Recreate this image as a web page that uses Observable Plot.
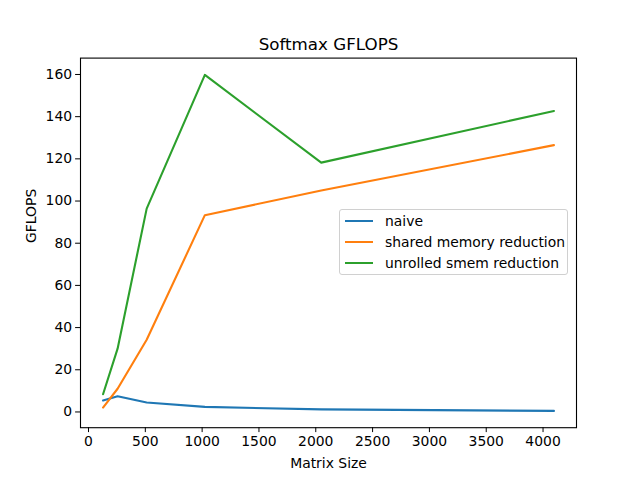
<!DOCTYPE html>
<html><head><meta charset="utf-8">
<script src="https://cdn.jsdelivr.net/npm/d3@7"></script>
<script src="https://cdn.jsdelivr.net/npm/@observablehq/plot@0.6"></script>
<style>
body{margin:0;background:#fff;font-family:"DejaVu Sans",sans-serif;}
#wrap{position:relative;width:640px;height:480px;}
#legend{position:absolute;left:339px;top:209px;width:229px;height:66px;box-sizing:border-box;border:1px solid #d0d0d0;border-radius:3px;background:rgba(255,255,255,0.8);font-size:13.9px;color:#000;}
.row{position:absolute;left:5px;height:20px;display:flex;align-items:center;}
.sw{width:28px;height:2px;margin-right:12px;}
</style></head>
<body><div id="wrap"></div>
<script>
const sizes = [128, 256, 512, 1024, 2048, 4096];
const naive = [5.4, 7.4, 4.5, 2.4, 1.2, 0.5];
const sharedMem = [2.1, 11, 34.2, 93.3, 105, 126.5];
const unrolled = [8.4, 30, 96.4, 159.8, 118.2, 142.7];
const seriesNames = ["naive", "shared memory reduction", "unrolled smem reduction"];
const seriesColors = ["#1f77b4", "#ff7f0e", "#2ca02c"];
const xTicks = [0, 500, 1000, 1500, 2000, 2500, 3000, 3500, 4000];
const yTicks = [0, 20, 40, 60, 80, 100, 120, 140, 160];

const allSeries = [naive, sharedMem, unrolled];
const rows = [];
allSeries.forEach((vals, si) => vals.forEach((v, i) => rows.push({size: sizes[i], gflops: v, series: seriesNames[si]})));

const xPad = (4096 - 128) * 0.05;
const yMin = 0.5, yMax = 159.8, yPad = (yMax - yMin) * 0.05;

const chart = Plot.plot({
  width: 640, height: 480,
  marginLeft: 80, marginRight: 64, marginTop: 57.6, marginBottom: 52.8,
  style: {fontFamily: "DejaVu Sans", fontSize: "13.9px", background: "white", color: "black"},
  x: {domain: [128 - xPad, 4096 + xPad]},
  y: {domain: [yMin - yPad, yMax + yPad]},
  color: {domain: seriesNames, range: seriesColors},
  marks: [
    Plot.axisX({ticks: xTicks, tickSize: 4.9, tickPadding: 3.5, label: null, tickFormat: d => String(d)}),
    Plot.axisY({ticks: yTicks, tickSize: 4.9, tickPadding: 3.5, label: null, tickFormat: d => String(d)}),
    Plot.lineY(rows, {x: "size", y: "gflops", stroke: "series", strokeWidth: 2.1, z: "series"}),
    Plot.frame({stroke: "black", strokeWidth: 1.1}),
    Plot.text(["Softmax GFLOPS"], {frameAnchor: "top", dy: -8.3, lineAnchor: "bottom", fontSize: 16.7}),
    Plot.text(["Matrix Size"], {frameAnchor: "bottom", dy: 30, lineAnchor: "top", fontSize: 13.9}),
    Plot.text(["GFLOPS"], {frameAnchor: "left", dx: -49, rotate: -90, fontSize: 13.9})
  ]
});
const wrap = document.getElementById("wrap");
wrap.appendChild(chart);
const leg = document.createElement("div");
leg.id = "legend";
seriesNames.forEach((n, i) => {
  const r = document.createElement("div");
  r.className = "row";
  r.style.top = (1 + i * 21) + "px";
  const sw = document.createElement("div");
  sw.className = "sw";
  sw.style.background = seriesColors[i];
  const t = document.createElement("span");
  t.textContent = n;
  r.appendChild(sw); r.appendChild(t);
  leg.appendChild(r);
});
wrap.appendChild(leg);
</script></body></html>
